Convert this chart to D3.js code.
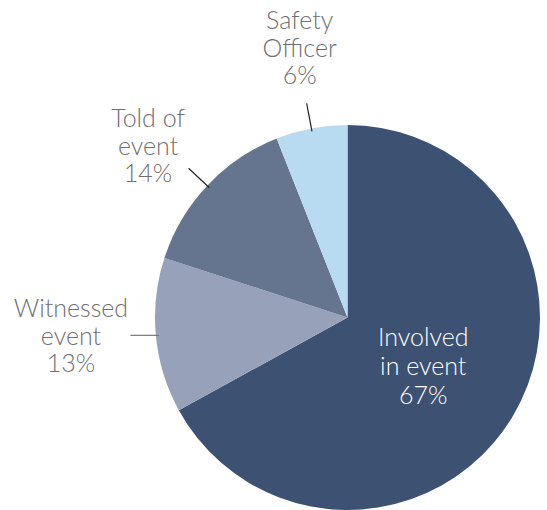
<!DOCTYPE html>
<html>
<head>
<meta charset="utf-8">
<script src="https://cdn.jsdelivr.net/npm/d3@7"></script>
<style>
  body { margin: 0; background: #fff; }
  svg text { font-family: Lato, "Noto Sans", sans-serif; font-weight: 300; }
</style>
</head>
<body>
<div id="chart"></div>
<script>
// slice data, clockwise from 12 o'clock
var categories = ["Involved in event", "Witnessed event", "Told of event", "Safety Officer"];
var values = [67, 13, 14, 6];
var labelLines = [["Involved", "in event", "67%"], ["Witnessed", "event", "13%"], ["Told of", "event", "14%"], ["Safety", "Officer", "6%"]];

var colors = ["#3d5172", "#97a2ba", "#65758f", "#b9dbf2"];

var width = 547, height = 510,
    cx = 347.5, cy = 317.5,
    radius = 192.5,
    lineH = 27.5;

/* where the outside labels sit relative to the leader end */
var labelOffset = [[0, 4], [-59.5, 0.5], [-40.5, -22.5], [-7, -55.5]];
var leaderColor = [null, "#777", "#222", "#222"];

var svg = d3.select("#chart").append("svg")
    .attr("width", width)
    .attr("height", height);

var g = svg.append("g")
    .attr("transform", "translate(" + cx + "," + cy + ")");

var data = categories.map(function (c, i) {
    return {name: c, value: values[i], lines: labelLines[i], idx: i};
});

var pie = d3.pie()
    .sort(null)
    .value(function (d) { return d.value; });

var arc = d3.arc().innerRadius(0).outerRadius(radius);

var arcs = pie(data);

g.selectAll("path.slice")
    .data(arcs)
    .enter().append("path")
    .attr("class", "slice")
    .attr("d", arc)
    .style("fill", function (d) { return colors[d.data.idx]; });

function polar(a, r) {
    return [Math.sin(a) * r, -Math.cos(a) * r];
}

function addLabel(x, y, lines, fill, lh) {
    var t = g.append("text")
        .attr("text-anchor", "middle")
        .style("font-size", "25px")
        .style("fill", fill);
    lines.forEach(function (l, k) {
        t.append("tspan")
            .attr("x", x)
            .attr("y", y + (k - 1) * lh + 9)
            .text(l);
    });
}

arcs.forEach(function (d) {
    var i = d.data.idx,
        mid = (d.startAngle + d.endAngle) / 2;

    if (i === 0) {
        // inside label
        var c = polar(mid, 88);
        addLabel(c[0] + labelOffset[i][0], c[1] + labelOffset[i][1], d.data.lines, "#ffffff", 29);
        return;
    }

    var p0 = polar(mid, radius - 3),
        p1 = polar(mid, 218);
    if (i === 1) p1 = [p1[0], p0[1]];

    g.append("line")
        .attr("x1", p0[0]).attr("y1", p0[1])
        .attr("x2", p1[0]).attr("y2", p1[1])
        .style("stroke", leaderColor[i])
        .style("stroke-width", 1.2);

    addLabel(p1[0] + labelOffset[i][0], p1[1] + labelOffset[i][1], d.data.lines, "#6f6f6f", lineH);
});
</script>
</body>
</html>
